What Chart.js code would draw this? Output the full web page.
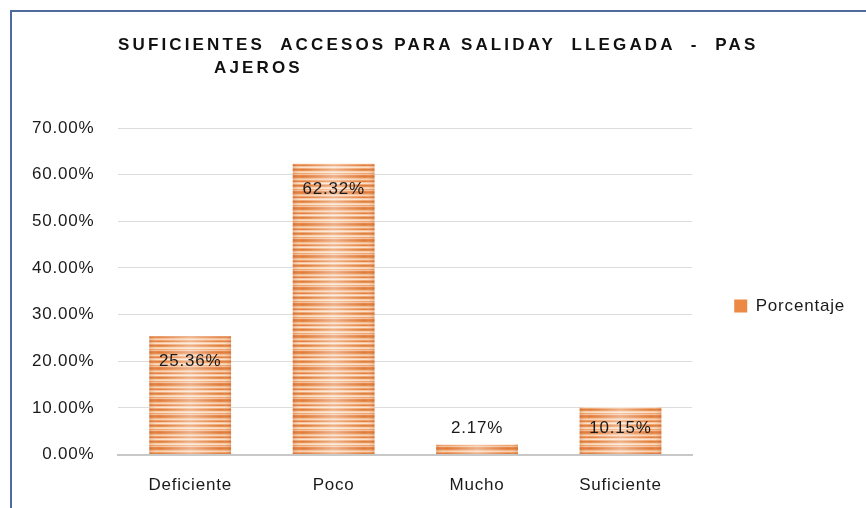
<!DOCTYPE html>
<html>
<head>
<meta charset="utf-8">
<script src="https://cdn.jsdelivr.net/npm/chart.js@4.4.1/dist/chart.umd.min.js"></script>
<style>
  html, body { margin: 0; padding: 0; background: #fff; }
  #wrap { position: relative; width: 866px; height: 508px; overflow: hidden; }
  #frame { position: absolute; left: 10px; top: 10px; width: 880px; height: 520px;
    border-left: 2px solid #4f6b9e; border-top: 2px solid #4f6b9e; }
  .title { position: absolute; font: bold 17px "Liberation Sans", Arial, sans-serif;
    letter-spacing: 3.15px; color: #111; line-height: 23px; white-space: pre; }
  canvas { position: absolute; left: 0; top: 0; }
</style>
</head>
<body>
<div id="wrap">
  <div id="frame"></div>
  <canvas id="barChart" width="866" height="508"></canvas>
  <div class="title" style="left:118px; top:33px">SUFICIENTES  ACCESOS PARA SALIDAY  LLEGADA  -  PAS</div>
  <div class="title" style="left:214px; top:56px">AJEROS</div>
</div>
<script>
const categories = ["Deficiente", "Poco", "Mucho", "Suficiente"];
const porcentaje = [25.36, 62.32, 2.17, 10.15];
const seriesName = "Porcentaje";
const tickValues = [0, 10, 20, 30, 40, 50, 60, 70];

// striped fill like the original bar texture
function stripePattern(ctx) {
  const c = document.createElement("canvas");
  c.width = 1;
  c.height = 16;
  const p = c.getContext("2d");
  const rows = ["#e07a38", "#e68a4c", "#f3b88c", "#f8d2b3", "#ee9e66", "#e27f3e",
    "#f6c6a0", "#fbe0ca", "#f0a874", "#e07a38", "#e8904f", "#f7cba7",
    "#fbdcc3", "#eea16a", "#f5c19a", "#e5854a"];
  rows.forEach((col, i) => { p.fillStyle = col; p.fillRect(0, i, 1, 1); });
  return ctx.createPattern(c, "repeat");
}

const barGlow = {
  id: "barGlow",
  afterDatasetsDraw(chart) {
    const ctx = chart.ctx;
    chart.getDatasetMeta(0).data.forEach((bar) => {
      const left = bar.x - bar.width / 2;
      const g = ctx.createLinearGradient(left, 0, left + bar.width, 0);
      g.addColorStop(0, "rgba(180,80,20,0.25)");
      g.addColorStop(0.12, "rgba(255,255,255,0)");
      g.addColorStop(0.5, "rgba(255,255,255,0.4)");
      g.addColorStop(0.88, "rgba(255,255,255,0)");
      g.addColorStop(1, "rgba(180,80,20,0.25)");
      ctx.save();
      ctx.fillStyle = g;
      ctx.fillRect(left, bar.y, bar.width, bar.base - bar.y);
      ctx.restore();
    });
  }
};

const valueLabels = {
  id: "valueLabels",
  afterDatasetsDraw(chart) {
    const ctx = chart.ctx;
    const ds = chart.data.datasets[0];
    ctx.save();
    ctx.font = '17px "Liberation Sans", Arial, sans-serif';
    ctx.fillStyle = "#1a1a1a";
    ctx.textAlign = "center";
    ctx.textBaseline = "middle";
    chart.getDatasetMeta(0).data.forEach((bar, i) => {
      const y = Math.min(bar.y + 25, bar.base - 26);
      ctx.fillText(ds.data[i].toFixed(2) + "%", bar.x, y);
    });
    ctx.restore();
  }
};

const spacing = {
  id: "spacing",
  beforeUpdate(chart) { chart.ctx.letterSpacing = "0.8px"; },
  beforeDraw(chart) { chart.ctx.letterSpacing = "0.8px"; },
  afterLayout(chart) {
    // legend sits a little above the middle in the original
    chart.legend.top -= 12;
    chart.legend.bottom -= 12;
  }
};

const ctx = document.getElementById("barChart").getContext("2d");
new Chart(ctx, {
  type: "bar",
  data: {
    labels: categories,
    datasets: [{
      label: seriesName,
      data: porcentaje,
      backgroundColor: stripePattern(ctx),
      borderWidth: 0,
      barPercentage: 0.57,
      categoryPercentage: 1
    }]
  },
  options: {
    responsive: false,
    animation: false,
    layout: { padding: { left: 8, right: 11, top: 128, bottom: 0 } },
    scales: {
      x: {
        grid: { display: false },
        border: { color: "#c8c8c8", width: 2 },
        ticks: { color: "#1a1a1a", font: { size: 17, family: '"Liberation Sans", Arial, sans-serif' }, padding: 12.5 }
      },
      y: {
        min: 0,
        max: 70,
        afterBuildTicks(axis) { axis.ticks = tickValues.map((v) => ({ value: v })); },
        grid: { color: "#dcdcdc", lineWidth: 1, drawTicks: false },
        border: { display: false },
        ticks: {
          color: "#1a1a1a",
          padding: 24,
          font: { size: 17, family: '"Liberation Sans", Arial, sans-serif' },
          callback: (v) => v.toFixed(2) + "%"
        }
      }
    },
    plugins: {
      legend: {
        position: "right",
        labels: {
          boxWidth: 13,
          boxHeight: 13,
          padding: 42,
          color: "#1a1a1a",
          font: { size: 17, family: '"Liberation Sans", Arial, sans-serif' },
          generateLabels(chart) {
            return Chart.defaults.plugins.legend.labels.generateLabels(chart).map((item) => ({
              ...item, fillStyle: "#ec8a45", strokeStyle: "#ec8a45", lineWidth: 0
            }));
          }
        }
      },
      tooltip: { enabled: false }
    }
  },
  plugins: [spacing, barGlow, valueLabels]
});
</script>
</body>
</html>
